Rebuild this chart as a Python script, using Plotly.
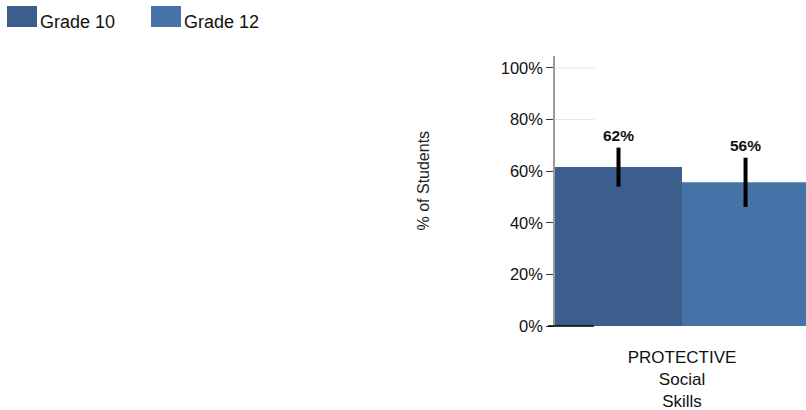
import plotly.graph_objects as go

categories = ["PROTECTIVE<br>Social<br>Skills"]
series_names = ["Grade 10", "Grade 12"]
values = [61.6, 55.7]
err_low = [54.0, 46.1]
err_high = [69.1, 65.2]
colors = ["#3B5E8C", "#4673A7"]
y_ticks = [0, 20, 40, 60, 80, 100]
y_tick_labels = [f"{t}%" for t in y_ticks]

FONT = "Liberation Sans, Arial, sans-serif"
W, H = 806, 410
L, R, T, B = 555, 0, 56, 84
PW, PH = W - L - R, H - T - B

def px(x):
    return (x - L) / PW

def py(y):
    return (H - B - y) / PH

fig = go.Figure()
offsets = [-0.5, 0.0]
for i, name in enumerate(series_names):
    fig.add_trace(go.Bar(
        x=[0], y=[values[i]], name=name, width=0.5, offset=offsets[i],
        marker=dict(color=colors[i], line=dict(width=0)),
        error_y=dict(type="data", symmetric=False,
                     array=[err_high[i] - values[i]],
                     arrayminus=[values[i] - err_low[i]],
                     color="black", thickness=4, width=0),
        showlegend=False,
    ))
    fig.add_annotation(x=offsets[i] + 0.25, y=err_high[i], text=f"<b>{values[i]:.0f}%</b>",
                       showarrow=False, yanchor="bottom", yshift=2,
                       font=dict(size=15.5, color="#111", family=FONT))

# gridlines (short segments near axis)
for t in [20, 40, 60, 80, 100]:
    fig.add_shape(type="line", xref="x", yref="y", x0=-0.5, x1=-0.346, y0=t, y1=t,
                  line=dict(color="#e6e6e6", width=1), layer="below")
# dark baseline segment at 0%
fig.add_shape(type="line", xref="paper", yref="paper", x0=px(548), x1=px(594), y0=0, y1=0,
              line=dict(color="black", width=1.5), layer="above")

# legend
leg = [(7, "Grade 10"), (151, "Grade 12")]
for i, (x0, name) in enumerate(leg):
    fig.add_shape(type="rect", xref="paper", yref="paper",
                  x0=px(x0), x1=px(x0 + 30), y0=py(27), y1=py(6),
                  line=dict(width=0), fillcolor=colors[i])
    fig.add_annotation(xref="paper", yref="paper", x=px(x0 + 31), y=py(21.5),
                       text=name, showarrow=False, xanchor="left", yanchor="middle",
                       font=dict(size=18, color="#111", family=FONT))

# y-axis title
fig.add_annotation(xref="paper", yref="paper", x=px(423), y=py(180.5),
                   text="% of Students", textangle=-90, showarrow=False,
                   xanchor="center", yanchor="middle",
                   font=dict(size=16, color="#222", family=FONT))

fig.update_layout(
    width=W, height=H,
    margin=dict(l=L, r=R, t=T, b=B),
    paper_bgcolor="white", plot_bgcolor="white",
    font=dict(family=FONT, size=16, color="#222"),
    barmode="overlay",
    xaxis=dict(range=[-0.5, 0.488], tickvals=[0], ticktext=categories,
               tickfont=dict(size=17, color="#111"),
               showgrid=False, zeroline=False, showline=False, ticks="",
               ticklabelstandoff=19, fixedrange=True),
    yaxis=dict(range=[0, 104.6], tickvals=y_ticks, ticktext=y_tick_labels,
               tickfont=dict(size=16.5, color="#111"),
               showgrid=False, zeroline=False, showline=True, linecolor="#999",
               linewidth=1.5, ticks="outside", ticklen=7, tickcolor="#333",
               fixedrange=True),
    showlegend=False,
)
fig.write_html("out.html", config={"displayModeBar": False},
               post_script="document.body.style.margin='0';document.body.style.padding='0';")
